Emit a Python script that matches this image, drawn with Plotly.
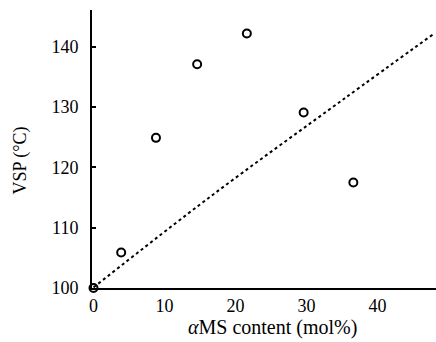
import plotly.graph_objects as go

# data
ams_content = [0.0, 3.9, 8.8, 14.6, 21.6, 29.6, 36.6]
vsp = [100.0, 105.9, 124.9, 137.1, 142.2, 129.1, 117.5]

line_x = [0.0, 16.4, 35.2, 48.1]
line_y = [100.1, 115.1, 131.3, 142.3]

x_ticks = [0, 10, 20, 30, 40]
y_ticks = [100, 110, 120, 130, 140]

FONT = "Liberation Serif"

fig = go.Figure()
fig.add_trace(go.Scatter(
    x=line_x, y=line_y, mode="lines",
    line=dict(color="black", width=2, dash="dot", shape="spline"),
    showlegend=False, hoverinfo="skip", cliponaxis=True,
))
fig.add_trace(go.Scatter(
    x=ams_content, y=vsp, mode="markers",
    marker=dict(symbol="circle-open", size=8, color="black", line=dict(width=2, color="black")),
    showlegend=False, cliponaxis=False,
))

fig.update_layout(
    width=436, height=342,
    margin=dict(l=92, r=0, t=10, b=54),
    paper_bgcolor="white", plot_bgcolor="white",
    font=dict(family=FONT, size=18, color="black"),
    xaxis=dict(
        range=[-0.21, 48.24], tickvals=x_ticks, ticks="",
        showline=True, linecolor="black", linewidth=2,
        showgrid=False, zeroline=False, ticklabelstandoff=0,
        tickfont=dict(family=FONT, size=18, color="black"),
    ),
    yaxis=dict(
        range=[100, 146.1], tickvals=y_ticks, ticks="inside", ticklen=4,
        tickwidth=1.5, tickcolor="black",
        showline=True, linecolor="black", linewidth=2,
        showgrid=False, zeroline=False, ticklabelstandoff=8,
        tickfont=dict(family=FONT, size=18, color="black"),
    ),
    annotations=[
        dict(text="<i>α</i>MS content (mol%)", xref="paper", yref="paper",
             x=0.526, y=-0.142, showarrow=False, xanchor="center", yanchor="middle",
             font=dict(family=FONT, size=20, color="black")),
        dict(text="VSP (°C)", xref="paper", yref="paper",
             x=-0.209, y=0.459, showarrow=False, xanchor="center", yanchor="middle",
             textangle=-90, font=dict(family=FONT, size=18, color="black")),
    ],
)

fig.write_html("out.html", config={"displayModeBar": False},
               post_script="document.body.style.margin='0';")
